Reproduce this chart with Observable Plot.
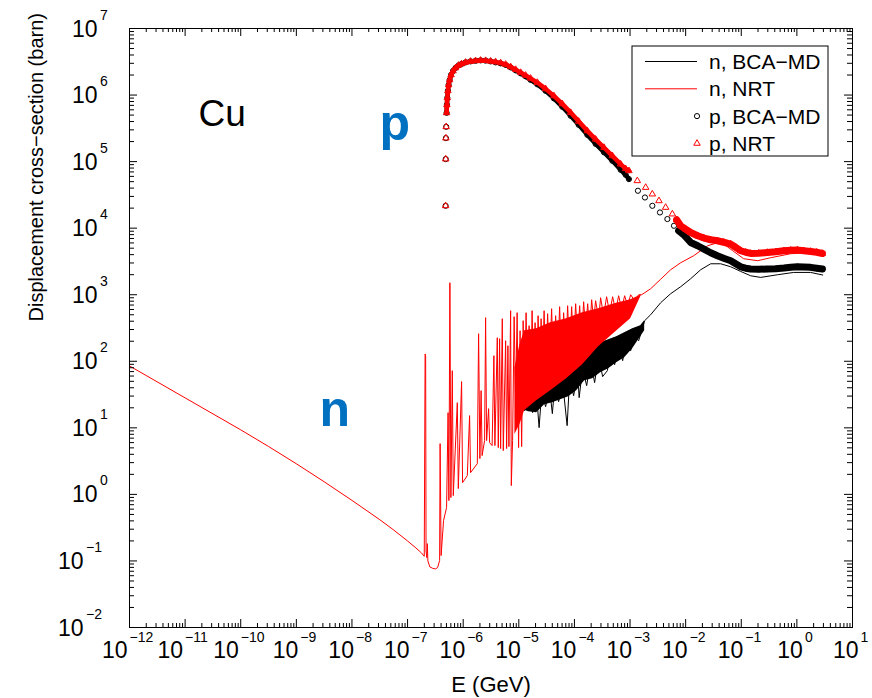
<!DOCTYPE html>
<html><head><meta charset="utf-8">
<script src="https://cdn.jsdelivr.net/npm/d3@7"></script>
<script src="https://cdn.jsdelivr.net/npm/@observablehq/plot@0.6"></script>
<style>html,body{margin:0;padding:0;background:#fff;overflow:hidden}</style>
</head><body><div id="chart"></div>
<script>
// All values are [log10 E (GeV), log10 sigma (barn)].
const nNRT = [
[-12.0,1.93],[-11.0,1.45],[-10.0,0.97],[-9.5,0.72],[-9.0,0.46],[-8.5,0.19],[-8.0,-0.09],[-7.5,-0.38],[-7.25,-0.535],[-7.0,-0.70],[-6.85,-0.805],[-6.75,-0.88],[-6.70,-0.93],
[-6.685,2.11],[-6.675,2.08],[-6.668,-0.85],[-6.655,-0.95],[-6.645,-0.74],[-6.635,-1.0],[-6.60,-1.09],[-6.55,-1.11],[-6.50,-1.12],[-6.46,-1.10],
[-6.424,-0.994],[-6.415,0.763],[-6.397,-0.919],[-6.353,-0.393],[-6.299,-0.198],[-6.272,1.228],[-6.257,-0.093],[-6.239,3.180],[-6.221,-0.048],[-6.196,1.859],[-6.178,-0.018],[-6.106,1.378],[-6.088,0.087],[-6.029,1.694],[-6.011,0.177],[-5.926,0.282],[-5.885,1.183],[-5.867,0.327],[-5.746,0.462],[-5.723,2.414],[-5.700,0.538],[-5.678,1.559],[-5.660,0.583],[-5.615,0.808],[-5.597,2.655],[-5.579,0.808],[-5.543,1.288],[-5.525,0.778],[-5.480,0.733],[-5.448,2.084],[-5.430,0.733],[-5.387,2.354],[-5.369,0.703],[-5.345,2.339],[-5.327,0.688],[-5.297,2.640],[-5.279,0.658],[-5.237,2.309],[-5.219,0.688],[-5.196,2.234],[-5.178,0.718],[-5.147,2.760],[-5.135,0.132],[-5.112,0.808],
[-5.084,2.670],[-5.057,1.408],[-5.030,2.730],[-5.004,0.703],[-4.977,2.459],[-4.949,0.718],[-4.922,2.610],[-4.896,1.408],[-4.869,2.730],[-4.842,1.559],[-4.815,2.535],[-4.788,1.483],[-4.761,2.760],[-4.734,1.709],[-4.707,2.580],[-4.680,1.483],[-4.653,2.685],[-4.626,1.634],[-4.599,2.640],[-4.572,1.859],[-4.545,2.760],[-4.518,1.784],[-4.482,2.715],[-4.446,1.934],[-4.410,2.790],[-4.374,1.829],[-4.338,2.685],[-4.302,2.009],[-4.266,2.820],[-4.230,1.934],[-4.194,2.730],[-4.158,2.084],[-4.122,2.835],[-4.086,2.129],[-4.050,2.820],[-4.014,2.234],[-3.978,2.865],[-3.942,2.309],[-3.906,2.835],[-3.870,2.339],[-3.834,2.895],[-3.798,2.459],[-3.762,2.865],[-3.726,2.459],[-3.690,2.925],[-3.654,2.610],[-3.619,2.910],[-3.565,2.640],[-3.529,2.955],[-3.475,2.685],[-3.421,2.970],[-3.367,2.730],[-3.313,2.970],[-3.259,2.760],[-3.205,2.985],[-3.151,2.790],[-3.097,2.985],[-3.043,2.835],[-2.989,3.000],[-2.917,2.910],[-2.845,3.000],[-2.791,3.000],
[-2.629,3.090],[-2.449,3.233],[-2.270,3.375],[-2.090,3.480],[-1.856,3.586],[-1.604,3.736],[-1.370,3.796],[-1.154,3.661],[-0.957,3.541],[-0.705,3.511],[-0.471,3.556],[-0.111,3.616],[0.195,3.631],[0.464,3.616]
];
// dense resonance band of n, NRT (log10 E, lower and upper log10 sigma)
const nNRTBandE  = [-5.070,-4.980,-4.896,-4.680,-4.428,-4.140,-3.853,-3.565,-3.277,-2.989,-2.791];
const nNRTBandLo = [0.900,1.050,1.258,1.408,1.559,1.739,1.949,2.219,2.429,2.640,3.000];
const nNRTBandHi = [1.900,2.250,2.459,2.489,2.580,2.640,2.730,2.790,2.865,2.925,3.000];

const nBCA = [
[-4.967,1.408],[-4.896,1.258],[-4.824,1.438],[-4.752,1.228],[-4.680,1.498],[-4.635,1.003],[-4.590,1.529],[-4.518,1.318],[-4.446,1.589],[-4.397,1.213],[-4.356,1.619],[-4.284,1.393],[-4.212,1.679],[-4.131,1.033],[-4.086,1.739],[-4.014,1.483],[-3.942,1.829],[-3.915,1.453],[-3.853,1.889],[-3.780,1.634],[-3.709,2.009],[-3.637,1.679],[-3.565,2.084],[-3.493,1.769],[-3.408,1.859],[-3.349,2.159],[-3.277,1.949],[-3.205,2.234],[-3.133,2.009],[-3.061,2.309],[-2.989,2.159],[-2.917,2.384],[-2.845,2.309],[-2.737,2.610],
[-2.629,2.700],[-2.449,2.880],[-2.270,3.015],[-2.090,3.120],[-1.910,3.240],[-1.730,3.375],[-1.550,3.465],[-1.370,3.465],[-1.190,3.420],[-1.011,3.350],[-0.831,3.285],[-0.651,3.260],[-0.350,3.300],[-0.057,3.335],[0.248,3.335],[0.464,3.296]
];
const nBCABandE  = [-4.967,-4.824,-4.680,-4.536,-4.392,-4.248,-4.104,-3.960,-3.816,-3.673,-3.529,-3.385,-3.241,-3.097,-2.953,-2.809,-2.737];
const nBCABandLo = [1.288,1.243,1.228,1.348,1.378,1.423,1.468,1.559,1.709,1.739,1.829,1.889,1.979,2.054,2.189,2.369,2.459];
const nBCABandHi = [1.483,1.529,1.589,1.679,1.739,1.799,1.889,1.979,2.084,2.189,2.279,2.324,2.369,2.429,2.489,2.535,2.610];

const pBCAThr = [[-6.316,4.336],[-6.314,5.038],[-6.311,5.353],[-6.306,5.523]];
const pBCAMain = [
[-6.298,5.733],[-6.293,5.853],[-6.286,5.958],[-6.275,6.063],[-6.262,6.153],[-6.244,6.228],[-6.218,6.303],[-6.182,6.363],[-6.137,6.408],[-6.083,6.446],[-6.029,6.468],[-5.957,6.491],[-5.867,6.506],[-5.777,6.514],[-5.687,6.521],[-5.597,6.517],[-5.507,6.506],[-5.417,6.491],[-5.327,6.476],[-5.237,6.453],[-5.147,6.416],[-5.057,6.371],[-4.967,6.326],[-4.878,6.281],[-4.788,6.228],[-4.667,6.161],[-4.518,6.063],[-4.369,5.950],[-4.218,5.823],[-4.068,5.688],[-3.924,5.553],[-3.768,5.402],[-3.619,5.267],[-3.469,5.140],[-3.318,5.012],[-3.169,4.877],[-3.079,4.802],[-3.020,4.737]
];
const pBCATail = [[-2.858,4.562],[-2.732,4.461],[-2.599,4.336],[-2.462,4.236],[-2.329,4.137],[-2.210,4.036]];
const pBCAHigh = [
[-2.126,3.961],[-2.036,3.901],[-1.910,3.785],[-1.784,3.736],[-1.671,3.686],[-1.550,3.631],[-1.430,3.586],[-1.316,3.548],[-1.190,3.511],[-1.101,3.465],[-1.011,3.420],[-0.921,3.398],[-0.831,3.386],[-0.687,3.383],[-0.530,3.386],[-0.381,3.390],[-0.232,3.401],[-0.111,3.413],[0.009,3.420],[0.123,3.416],[0.248,3.411],[0.356,3.398],[0.459,3.386]
];

const pNRTThr = [[-6.316,4.336],[-6.314,5.038],[-6.311,5.353],[-6.306,5.523]];
const pNRTMain = [
[-6.298,5.733],[-6.293,5.853],[-6.286,5.958],[-6.275,6.063],[-6.262,6.153],[-6.244,6.228],[-6.218,6.303],[-6.182,6.363],[-6.137,6.408],[-6.083,6.446],[-6.029,6.468],[-5.957,6.491],[-5.867,6.506],[-5.777,6.514],[-5.687,6.521],[-5.597,6.517],[-5.507,6.509],[-5.417,6.498],[-5.327,6.483],[-5.237,6.461],[-5.147,6.423],[-5.057,6.383],[-4.967,6.338],[-4.878,6.296],[-4.788,6.251],[-4.667,6.188],[-4.518,6.093],[-4.369,5.988],[-4.218,5.868],[-4.068,5.737],[-3.924,5.605],[-3.768,5.462],[-3.619,5.335],[-3.469,5.212],[-3.318,5.087],[-3.169,4.962],[-3.079,4.892],[-3.020,4.862]
];
const pNRTTail = [[-2.869,4.712],[-2.719,4.611],[-2.599,4.512],[-2.480,4.411],[-2.360,4.311],[-2.239,4.212]];
const pNRTHigh = [
[-2.162,4.126],[-2.090,4.036],[-2.000,3.984],[-1.910,3.935],[-1.784,3.886],[-1.671,3.851],[-1.550,3.826],[-1.430,3.811],[-1.316,3.788],[-1.190,3.761],[-1.101,3.713],[-1.011,3.661],[-0.921,3.638],[-0.831,3.620],[-0.687,3.623],[-0.530,3.635],[-0.381,3.646],[-0.232,3.661],[-0.111,3.668],[0.009,3.671],[0.123,3.661],[0.248,3.650],[0.356,3.638],[0.459,3.620]
];

const xTickExps = [-12,-11,-10,-9,-8,-7,-6,-5,-4,-3,-2,-1,0,1];
const yTickExps = [-2,-1,0,1,2,3,4,5,6,7];
const legendLabels = ["n, BCA\u2212MD", "n, NRT", "p, BCA\u2212MD", "p, NRT"];
const legendKinds  = ["line", "line", "circle", "triangle"];
const legendColors = ["#000000", "#ff0000", "#000000", "#ff0000"];

// ---------------------------------------------------------------
const FONT = '"Liberation Sans", Arial, Helvetica, sans-serif';
const W = 872, H = 698, ML = 129, MR = 20, MT = 28, MB = 71;
const FW = W - ML - MR, FH = H - MT - MB;
const RED = "#ff0000", BLUE = "#0070c0";

const P = ([e, s]) => ({E: 10 ** e, S: 10 ** s});
const band = (E, lo, hi) => E.map((e, i) => ({E: 10 ** e, lo: 10 ** lo[i], hi: 10 ** hi[i]}));
const expStr = e => String(e).replace("-", "\u2212");

const xMajor = xTickExps.map(e => 10 ** e);
const yMajor = yTickExps.map(e => 10 ** e);
const xMinor = [], yMinor = [];
for (let k = -12; k < 1; k++) for (let d = 2; d < 10; d++) xMinor.push(d * 10 ** k);
for (let k = -2; k < 7; k++) for (let d = 2; d < 10; d++) yMinor.push(d * 10 ** k);

const xGroups = [
  {f: e => e <= -10, dx: -2},
  {f: e => e < 0 && e > -10, dx: 2},
  {f: e => e >= 0, dx: 6}
];
const xLabelMarks = xGroups.flatMap(g => {
  const d = xTickExps.filter(g.f);
  return [
    Plot.text(d, {x: e => 10 ** e, frameAnchor: "bottom", text: () => "10", textAnchor: "end", lineAnchor: "bottom", dx: g.dx, dy: 30, fontSize: 23, fontFamily: FONT}),
    Plot.text(d, {x: e => 10 ** e, frameAnchor: "bottom", text: expStr, textAnchor: "start", lineAnchor: "bottom", dx: g.dx + 2, dy: 14, fontSize: 14, fontFamily: FONT})
  ];
});
const yGroups = [
  {f: e => e >= 0, dx: -32},
  {f: e => e < 0, dx: -46}
];
const yLabelMarks = yGroups.flatMap(g => {
  const d = yTickExps.filter(g.f);
  return [
    Plot.text(d, {y: e => 10 ** e, frameAnchor: "left", text: () => "10", textAnchor: "end", lineAnchor: "bottom", dx: g.dx, dy: 8, fontSize: 23, fontFamily: FONT}),
    Plot.text(d, {y: e => 10 ** e, frameAnchor: "left", text: expStr, textAnchor: "start", lineAnchor: "bottom", dx: g.dx + 2.5, dy: -9, fontSize: 14, fontFamily: FONT})
  ];
});

const chart = Plot.plot({
  width: W, height: H,
  marginLeft: ML, marginRight: MR, marginTop: MT, marginBottom: MB,
  x: {type: "log", domain: [1e-12, 10], axis: null},
  y: {type: "log", domain: [1e-2, 1e7], axis: null},
  style: {fontFamily: FONT, background: "white", color: "black"},
  marks: [
    // n, BCA-MD
    Plot.areaY(band(nBCABandE, nBCABandLo, nBCABandHi), {x: "E", y1: "lo", y2: "hi", fill: "#000"}),
    Plot.line(nBCA.map(P), {x: "E", y: "S", stroke: "#000", strokeWidth: 1}),
    // n, NRT
    Plot.areaY(band(nNRTBandE, nNRTBandLo, nNRTBandHi), {x: "E", y1: "lo", y2: "hi", fill: RED}),
    Plot.line(nNRT.map(P), {x: "E", y: "S", stroke: RED, strokeWidth: 1}),
    // p, BCA-MD
    Plot.line(pBCAMain.map(P), {x: "E", y: "S", stroke: "#000", strokeWidth: 4.5, strokeLinejoin: "round", strokeLinecap: "round"}),
    Plot.line(pBCAHigh.map(P), {x: "E", y: "S", stroke: "#000", strokeWidth: 7, strokeLinejoin: "round", strokeLinecap: "round"}),
    Plot.dot([...pBCAThr, ...pBCAMain, ...pBCATail, ...pBCAHigh].map(P), {x: "E", y: "S", r: 2.6, stroke: "#000", fill: "none", strokeWidth: 1}),
    // p, NRT
    Plot.line(pNRTMain.map(P), {x: "E", y: "S", stroke: RED, strokeWidth: 4.5, strokeLinejoin: "round", strokeLinecap: "round"}),
    Plot.line(pNRTHigh.map(P), {x: "E", y: "S", stroke: RED, strokeWidth: 7, strokeLinejoin: "round", strokeLinecap: "round"}),
    Plot.dot([...pNRTThr, ...pNRTMain, ...pNRTTail, ...pNRTHigh].map(P), {x: "E", y: "S", r: 2.4, symbol: "triangle", stroke: RED, fill: "none", strokeWidth: 1}),
    // frame and ticks (inward)
    Plot.frame({stroke: "#000", strokeWidth: 1}),
    Plot.ruleX(xMajor, {insetTop: FH - 8, stroke: "#000"}),
    Plot.ruleX(xMajor, {insetBottom: FH - 8, stroke: "#000"}),
    Plot.ruleX(xMinor, {insetTop: FH - 4, stroke: "#000"}),
    Plot.ruleX(xMinor, {insetBottom: FH - 4, stroke: "#000"}),
    Plot.ruleY(yMajor, {insetRight: FW - 8, stroke: "#000"}),
    Plot.ruleY(yMajor, {insetLeft: FW - 8, stroke: "#000"}),
    Plot.ruleY(yMinor, {insetRight: FW - 5, stroke: "#000"}),
    Plot.ruleY(yMinor, {insetLeft: FW - 5, stroke: "#000"}),
    ...xLabelMarks,
    ...yLabelMarks,
    // axis titles
    Plot.text(["E (GeV)"], {frameAnchor: "bottom", text: d => d, lineAnchor: "bottom", dy: 64, fontSize: 22, fontFamily: FONT}),
    Plot.text(["Displacement cross\u2212section (barn)"], {frameAnchor: "left", text: d => d, rotate: -90, lineAnchor: "bottom", dx: -87, dy: -6.5, fontSize: 20, fontFamily: FONT}),
    // annotations
    Plot.text(["Cu"], {x: () => 10 ** -10.76, y: () => 10 ** 5.538, text: d => d, textAnchor: "start", lineAnchor: "bottom", fontSize: 37, fontFamily: FONT}),
    Plot.text(["p"], {x: () => 10 ** -7.504, y: () => 10 ** 5.32, text: d => d, textAnchor: "start", lineAnchor: "bottom", fontSize: 50, fontWeight: "bold", fill: BLUE, fontFamily: FONT}),
    Plot.text(["n"], {x: () => 10 ** -8.583, y: () => 10 ** 1.033, text: d => d, textAnchor: "start", lineAnchor: "bottom", fontSize: 50, fontWeight: "bold", fill: BLUE, fontFamily: FONT})
  ]
});
document.getElementById("chart").append(chart);

// legend box inside the plot area
const svg = d3.select(chart);
const lg = svg.append("g").attr("font-family", FONT).attr("font-size", 21).attr("text-anchor", "start");
lg.append("rect").attr("x", 632).attr("y", 46).attr("width", 196).attr("height", 110)
  .attr("fill", "white").attr("stroke", "black").attr("stroke-width", 1);
legendLabels.forEach((lab, i) => {
  const cy = 61.5 + i * 27.3;
  if (legendKinds[i] === "line") {
    lg.append("line").attr("x1", 645).attr("x2", 697).attr("y1", cy).attr("y2", cy)
      .attr("stroke", legendColors[i]).attr("stroke-width", 1);
  } else if (legendKinds[i] === "circle") {
    lg.append("circle").attr("cx", 697).attr("cy", cy).attr("r", 2.6)
      .attr("fill", "none").attr("stroke", legendColors[i]);
  } else {
    lg.append("path").attr("d", d3.symbol(d3.symbolTriangle, Math.PI * 2.4 * 2.4)())
      .attr("transform", `translate(697,${cy})`).attr("fill", "none").attr("stroke", legendColors[i]);
  }
  lg.append("text").attr("x", 709).attr("y", cy + 7.5).attr("fill", "black").attr("text-anchor", "start").text(lab);
});
</script>
</body></html>
